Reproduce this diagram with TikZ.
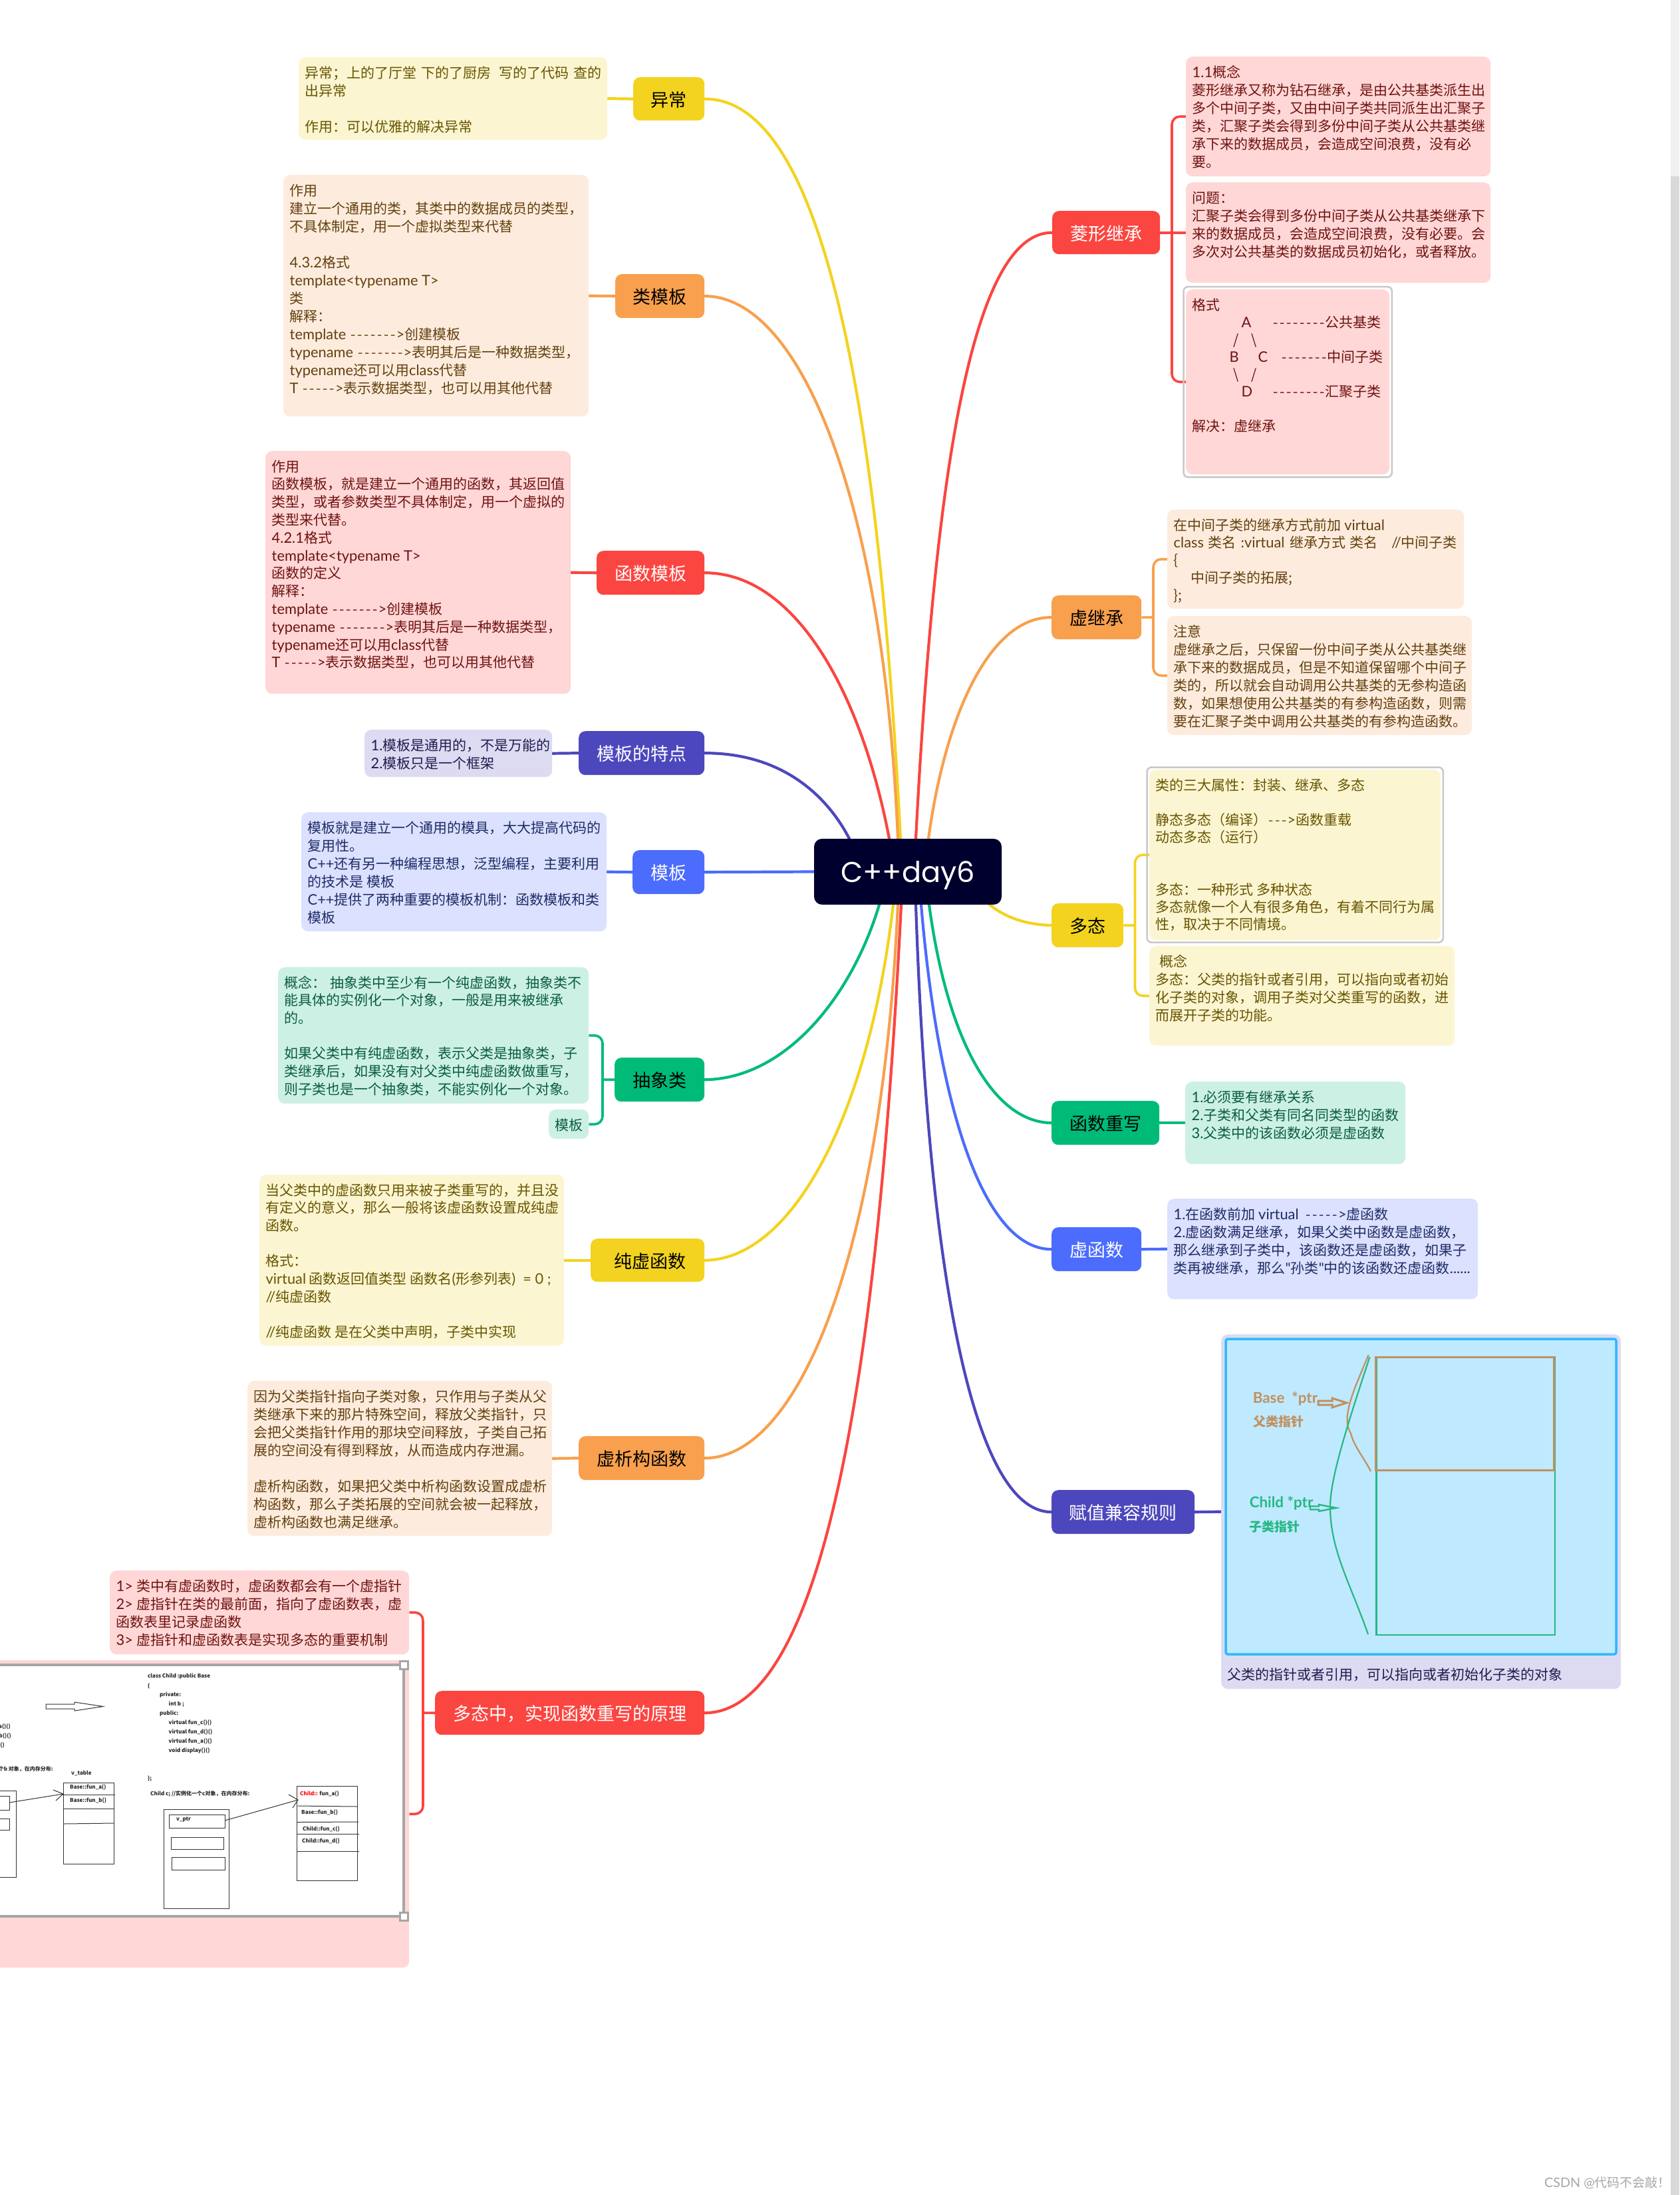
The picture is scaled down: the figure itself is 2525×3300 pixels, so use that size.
\documentclass[tikz,border=0pt]{standalone}
\usepackage{fontspec}
\usetikzlibrary{backgrounds}
\setmainfont{Noto Sans CJK SC}
\newfontfamily\lat[Scale=1.04]{Lato}
\newfontfamily\rootfont{Poppins}
\newcommand\lt[1]{{\lat #1}}
\newcommand\ds[1]{\foreach\i in {1,...,#1}{\makebox[10pt]{-}}}
\newcommand\putat[2]{\leavevmode\rlap{\hspace*{#1pt}#2}}
\newcommand\tightlines[1]{\setlength\baselineskip{#1pt}}
\definecolor{cred}{HTML}{FB4540}
\definecolor{corange}{HTML}{F8A04D}
\definecolor{cyellow}{HTML}{F3D31F}
\definecolor{cindigo}{HTML}{4D47BD}
\definecolor{cblue}{HTML}{4B6CFC}
\definecolor{cgreen}{HTML}{00BB78}
\definecolor{fred}{HTML}{FFD7D6}
\definecolor{forange}{HTML}{FDECDD}
\definecolor{fyellow}{HTML}{FCF5D1}
\definecolor{findigo}{HTML}{DCDBF2}
\definecolor{fblue}{HTML}{DBE1FE}
\definecolor{fgreen}{HTML}{CCF1E4}
\definecolor{tred}{HTML}{6E1210}
\definecolor{torange}{HTML}{63400F}
\definecolor{tyellow}{HTML}{665500}
\definecolor{tindigo}{HTML}{1F1C4C}
\definecolor{tblue}{HTML}{1E2B66}
\definecolor{tgreen}{HTML}{0B5C40}
\definecolor{picbrown}{HTML}{C09060}
\definecolor{picgreen}{HTML}{26B884}
\definecolor{picblue}{HTML}{2DB9FB}
\definecolor{picfill}{HTML}{BFE9FE}
\definecolor{selgrey}{HTML}{C8C8C8}
\definecolor{handlegrey}{HTML}{A6A6A6}
\definecolor{rootfill}{HTML}{00002E}
\tikzset{
  notebox/.style={rounded corners=10pt,inner xsep=9.5pt,inner ysep=12pt,anchor=north west,draw=none},
  nred/.style={fill=fred,text=tred}, norange/.style={fill=forange,text=torange},
  nyellow/.style={fill=fyellow,text=tyellow}, nindigo/.style={fill=findigo,text=tindigo},
  nblue/.style={fill=fblue,text=tblue}, ngreen/.style={fill=fgreen,text=tgreen},
  branchbox/.style={rounded corners=10pt,inner sep=0pt,anchor=north west,font=\fontsize{27}{30}\selectfont},
  bred/.style={fill=cred,text=white}, borange/.style={fill=corange,text=black},
  byellow/.style={fill=cyellow,text=black}, bindigo/.style={fill=cindigo,text=white},
  bblue/.style={fill=cblue,text=white}, bgreen/.style={fill=cgreen,text=black},
  conn/.style={line width=4.2pt,line cap=round},
  brack/.style={line width=3.6pt,rounded corners=12pt},
  selframe/.style={draw=selgrey,line width=2.5pt,rounded corners=7pt},
  imgtext/.style={anchor=west,inner sep=0pt,text=black!85,font=\fontsize{8}{10}\bfseries\selectfont},
  imgline/.style={draw=black!80,line width=1pt},
  imghandle/.style={draw=handlegrey,line width=3pt,fill=white},
  brownlab/.style={anchor=west,inner sep=0pt,text=picbrown,font=\fontsize{19}{22}\bfseries\selectfont},
  greenlab/.style={anchor=west,inner sep=0pt,text=picgreen,font=\fontsize{19}{22}\bfseries\selectfont},
}
\newcommand\lab[1]{{\fontsize{21.5}{24}\selectfont\lat\bfseries #1}}
% name, x0, y0, x1, y1, palette, text
\newcommand\notenode[7]{%
  \pgfmathsetmacro\nw{#4-#2-19}\pgfmathsetmacro\nh{#5-#3-24}%
  \node[notebox,#6] (#1) at (#2,#3) {\parbox[t][\nh pt][t]{\nw pt}{\fontsize{21}{27}\selectfont\raggedright\strut #7}};}
\newcommand\branch[7]{%
  \pgfmathsetmacro\nw{#4-#2}\pgfmathsetmacro\nh{#5-#3}%
  \node[branchbox,#6,minimum width=\nw pt,minimum height=\nh pt] (#1) at (#2,#3) {\raisebox{-11.5pt}[0pt][0pt]{#7}};}
\begin{document}
\begin{tikzpicture}[x=1pt,y=-1pt]
\useasboundingbox (0,0) rectangle (2525,3300);
% scrollbar
\fill[fill=black!15] (2512,0) rectangle (2525,3300);
\fill[fill=black!6] (2512,0) rectangle (2525,265);
% root
\node[rounded corners=12pt,fill=rootfill,text=white,minimum width=282pt,minimum height=99pt,inner sep=0pt,font=\rootfont\fontsize{43}{48}\selectfont] (root) at (1365,1310.5) {\raisebox{-15.5pt}[0pt][0pt]{C++day6}};
% left branches
\branch{yichang}{952}{116}{1059}{181}{byellow}{异常}
\branch{leimb}{925}{412}{1059}{478}{borange}{类模板}
\branch{hanmb}{897}{828}{1059}{894}{bred}{函数模板}
\branch{tedian}{870}{1099}{1059}{1165}{bindigo}{模板的特点}
\branch{muban}{951}{1278}{1059}{1344}{bblue}{模板}
\branch{chouxiang}{924}{1590}{1059}{1656}{bgreen}{抽象类}
\branch{chunxu}{888}{1862}{1059}{1927}{byellow}{\hspace*{8pt}纯虚函数}
\branch{xuxi}{870}{2159}{1059}{2225}{borange}{虚析构函数}
\branch{yuanli}{654}{2542}{1059}{2608}{bred}{多态中，实现函数重写的原理}
% right branches
\branch{lingxing}{1582}{317}{1744}{382}{bred}{菱形继承}
\branch{xujicheng}{1581}{895}{1716}{961}{borange}{虚继承}
\branch{duotai}{1581}{1358}{1689}{1424}{byellow}{多态}
\branch{chongxie}{1581}{1655}{1743}{1721}{bgreen}{函数重写}
\branch{xuhanshu}{1581}{1845}{1716}{1911}{bblue}{虚函数}
\branch{fuzhi}{1581}{2240}{1796}{2306}{bindigo}{赋值兼容规则}
% left notes
\notenode{nyc}{449}{86}{913}{210}{nyellow}{\mbox{异常；上的了厅堂\hspace{7pt}下的了厨房\hspace{12pt}写的了代码\hspace{7pt}查的}\\出异常\\\mbox{}\\作用：可以优雅的解决异常}
\notenode{nlm}{426}{263}{885}{626}{norange}{作用\\建立一个通用的类，其类中的数据成员的类型，\\不具体制定，用一个虚拟类型来代替\\\mbox{}\\\lt{4.3.2}格式\\\lt{template<typename T>}\\类\\解释：\\\lt{template }\ds{7}\lt{>}创建模板\\\lt{typename }\ds{7}\lt{>}表明其后是一种数据类型，\\\lt{typename}还可以用\lt{class}代替\\\lt{T }\ds{5}\lt{>}表示数据类型，也可以用其他代替}
\notenode{nhm}{399}{678}{858}{1043}{nred}{\tightlines{26.8}作用\\函数模板，就是建立一个通用的函数，其返回值\\类型，或者参数类型不具体制定，用一个虚拟的\\类型来代替。\\\lt{4.2.1}格式\\\lt{template<typename T>}\\函数的定义\\解释：\\\lt{template }\ds{7}\lt{>}创建模板\\\lt{typename }\ds{7}\lt{>}表明其后是一种数据类型，\\\lt{typename}还可以用\lt{class}代替\\\lt{T }\ds{5}\lt{>}表示数据类型，也可以用其他代替}
\notenode{ntd}{548}{1097}{830}{1168}{nindigo}{\lt{1.}模板是通用的，不是万能的\\\lt{2.}模板只是一个框架}
\notenode{nmb}{453}{1221}{912}{1400}{nblue}{模板就是建立一个通用的模具，大大提高代码的\\复用性。\\\lt{C++}还有另一种编程思想，泛型编程，主要利用\\的技术是 模板\\\lt{C++}提供了两种重要的模板机制：函数模板和类\\模板}
\notenode{ncx}{418}{1454}{885}{1659}{ngreen}{\tightlines{26.7}\makebox[68.6pt][l]{概念：}抽象类中至少有一个纯虚函数，抽象类不\\能具体的实例化一个对象，一般是用来被继承\\的。\\\mbox{}\\如果父类中有纯虚函数，表示父类是抽象类，子\\类继承后，如果没有对父类中纯虚函数做重写，\\则子类也是一个抽象类，不能实例化一个对象。}
\notenode{ncx2}{825}{1668}{885}{1712}{ngreen}{模板}
\notenode{ncv}{390}{1766}{848}{2023}{nyellow}{\tightlines{26.7}当父类中的虚函数只用来被子类重写的，并且没\\有定义的意义，那么一般将该虚函数设置成纯虚\\函数。\\\mbox{}\\格式：\\\lt{virtual} 函数返回值类型 函数名\lt{(}形参列表\lt{)\ \ =\ 0\ ;}\\\lt{//}纯虚函数\\\mbox{}\\\lt{//}纯虚函数 是在父类中声明，子类中实现}
\notenode{nxx}{372}{2076}{830}{2309}{norange}{因为父类指针指向子类对象，只作用与子类从父\\类继承下来的那片特殊空间，释放父类指针，只\\会把父类指针作用的那块空间释放，子类自己拓\\展的空间没有得到释放，从而造成内存泄漏。\\\mbox{}\\虚析构函数，如果把父类中析构函数设置成虚析\\构函数，那么子类拓展的空间就会被一起释放，\\虚析构函数也满足继承。}
\notenode{nyl}{165}{2361}{615}{2487}{nred}{\makebox[31pt][l]{\lt{1>}}类中有虚函数时，虚函数都会有一个虚指针\\\makebox[31pt][l]{\lt{2>}}虚指针在类的最前面，指向了虚函数表，虚\\函数表里记录虚函数\\\makebox[31pt][l]{\lt{3>}}虚指针和虚函数表是实现多态的重要机制}
\notenode{nimg}{-30}{2496}{615}{2958}{nred}{\mbox{}}
% image in the note
\fill[white] (-10,2503) rectangle (607,2881);
\draw[draw=handlegrey,line width=3.5pt] (-10,2503) -- (607,2503) -- (607,2881) -- (-10,2881);
\draw[imghandle] (601,2497) rectangle (613,2509);
\draw[imghandle] (601,2875) rectangle (613,2887);
\draw[imgline] (69,2562) -- (112,2562) -- (112,2559) -- (155,2565.5) -- (112,2572) -- (112,2569) -- (69,2569) -- cycle;
\node[imgtext] (ic1) at (222,2520) {class Child :public Base};
\node[imgtext] (ic2) at (222,2534.5) {\{};
\node[imgtext] (ic3) at (240,2548) {private:};
\node[imgtext] (ic4) at (253.5,2562) {int b ;};
\node[imgtext] (ic5) at (240,2576) {public:};
\node[imgtext] (ic6) at (253.5,2590) {virtual fun\_c()()};
\node[imgtext] (ic7) at (253.5,2604) {virtual fun\_d()()};
\node[imgtext] (ic8) at (253.5,2618) {virtual fun\_a()()};
\node[imgtext] (ic9) at (253.5,2632) {void display()()};
\node[imgtext] (ic10) at (222,2674) {\};};
\node[imgtext] (ic11) at (226,2697) {Child c; //实例化一个c对象，在内存分布:};
\node[imgtext,anchor=east] (il1) at (16,2596) {a()()};
\node[imgtext,anchor=east] (il2) at (17,2610) {b()()};
\node[imgtext,anchor=east] (il3) at (7,2624) {()};
\node[imgtext,anchor=east] (il4) at (80,2660) {个b 对象，在内存分布:};
\node[imgtext] (il5) at (107,2666) {v\_table};
\draw[imgline] (95,2680) rectangle (171,2802);
\draw[imgline] (94,2698) -- (173,2698);
\draw[imgline] (95,2719) -- (171,2719);
\draw[imgline] (95,2742) -- (171,2741);
\node[imgtext] (il6) at (105,2687) {Base::fun\_a()};
\node[imgtext] (il7) at (105,2707) {Base::fun\_b()};
\draw[imgline] (-10,2692) -- (24,2692) -- (24,2822) -- (-10,2822);
\draw[imgline] (-10,2700) -- (14,2700) -- (14,2721) -- (-10,2721);
\draw[imgline] (-10,2734.5) -- (14,2734.5) -- (14,2751) -- (-10,2751);
\draw[imgline] (14,2710) -- (95,2697);
\draw[imgline] (80,2691) -- (95,2697) -- (84,2707);
\draw[imgline] (246.5,2720.6) rectangle (344,2869);
\draw[imgline] (254,2728) rectangle (338,2748);
\draw[imgline] (257.5,2762) rectangle (336,2780.6);
\draw[imgline] (258,2792) rectangle (338,2811);
\node[imgtext] (ir1) at (265,2735) {v\_ptr};
\draw[imgline] (446,2685) rectangle (537.5,2827);
\draw[imgline] (448,2715) -- (537.5,2716);
\draw[imgline] (446,2739.5) -- (539,2739);
\draw[imgline] (446,2757) -- (540,2757);
\draw[imgline] (446,2783) -- (540,2783);
\node[imgtext] (ir2) at (451,2697) {\textcolor{red}{Child::} fun\_a()};
\node[imgtext] (ir3) at (453,2725) {Base::fun\_b()};
\node[imgtext] (ir4) at (455,2750) {Child::fun\_c()};
\node[imgtext] (ir5) at (454,2768) {Child::fun\_d()};
\draw[imgline] (338,2737) -- (448,2706);
\draw[imgline] (434,2698) -- (448,2706) -- (440,2718);
% right notes
\notenode{nl1}{1783}{85}{2241}{265}{nred}{\lt{1.1}概念\\菱形继承又称为钻石继承，是由公共基类派生出\\多个中间子类，又由中间子类共同派生出汇聚子\\类，汇聚子类会得到多份中间子类从公共基类继\\承下来的数据成员，会造成空间浪费，没有必\\要。}
\notenode{nl2}{1783}{274}{2241}{425}{nred}{问题：\\汇聚子类会得到多份中间子类从公共基类继承下\\来的数据成员，会造成空间浪费，没有必要。会\\多次对公共基类的数据成员初始化，或者释放。}
\notenode{nl3}{1783}{435}{2089}{713}{nred}{\tightlines{26.1}格式\\\putat{74}{\lt{A}}\putat{120}{\ds{8}公共基类}\\\putat{62}{/}\putat{89}{\textbackslash}\\\putat{56}{\lt{B}}\putat{99}{\lt{C}}\putat{133}{\ds{7}中间子类}\\\putat{62}{\textbackslash}\putat{89}{/}\\\putat{74}{\lt{D}}\putat{120}{\ds{8}汇聚子类}\\\mbox{}\\解决：虚继承}
\draw[selframe] ([shift={(-3.5,-4)}]nl3.north west) rectangle ([shift={(3.5,4)}]nl3.south east);
\notenode{nj1}{1755}{766}{2201}{915}{norange}{\tightlines{26.4}在中间子类的继承方式前加 \lt{virtual}\\\lt{class}\hspace{6.5pt}类名\hspace{7pt}\lt{:virtual}\hspace{8pt}继承方式\hspace{6.5pt}类名\hspace{20pt}\lt{//}中间子类\\\{\\\hspace*{26pt}中间子类的拓展;\\\};}
\notenode{nj2}{1755}{926}{2213}{1105}{norange}{注意\\虚继承之后，只保留一份中间子类从公共基类继\\承下来的数据成员，但是不知道保留哪个中间子\\类的，所以就会自动调用公共基类的无参构造函\\数，如果想使用公共基类的有参构造函数，则需\\要在汇聚子类中调用公共基类的有参构造函数。}
\notenode{nd1}{1728}{1157}{2166}{1413}{nyellow}{\tightlines{26.2}类的三大属性：封装、继承、多态\\\mbox{}\\静态多态（编译）\ds{3}\lt{>}函数重载\\动态多态（运行）\\\mbox{}\\\mbox{}\\多态：一种形式 多种状态\\多态就像一个人有很多角色，有着不同行为属\\性，取决于不同情境。}
\draw[selframe] ([shift={(-3.5,-3.5)}]nd1.north west) rectangle ([shift={(3.5,3.5)}]nd1.south east);
\notenode{nd2}{1728}{1422}{2187}{1572}{nyellow}{\hspace*{6pt}概念\\多态：父类的指针或者引用，可以指向或者初始\\化子类的对象，调用子类对父类重写的函数，进\\而展开子类的功能。}
\notenode{ncw}{1782}{1626}{2113}{1750}{ngreen}{\lt{1.}必须要有继承关系\\\lt{2.}子类和父类有同名同类型的函数\\\lt{3.}父类中的该函数必须是虚函数}
\notenode{nxh}{1755}{1802}{2222}{1953}{nblue}{\lt{1.}在函数前加 \lt{virtual} \ \ds{5}\lt{>}虚函数\\\lt{2.}虚函数满足继承，如果父类中函数是虚函数，\\那么继承到子类中，该函数还是虚函数，如果子\\类再被继承，那么\lt{"}孙类\lt{"}中的该函数还虚函数\lt{......}}
\notenode{nfz}{1836}{2006}{2437}{2539}{nindigo}{\mbox{}}
% picture in the last note
\draw[draw=picblue,fill=picfill,line width=3.5pt,rounded corners=3pt] (1843,2013) rectangle (2430,2487);
\draw[draw=picgreen,line width=2.5pt] (2069.5,2040) rectangle (2338,2458);
\draw[draw=picbrown,line width=3pt] (2068,2040) rectangle (2336,2210);
\draw[draw=picbrown,line width=2.2pt] (2057.6,2037) .. controls (2038,2085) and (2015,2130) .. (2031,2155) .. controls (2036,2175) and (2050,2190) .. (2061,2212);
\draw[draw=picgreen,line width=2.2pt] (2059.5,2040) .. controls (2030,2130) and (2000,2220) .. (2000,2265) .. controls (2000,2330) and (2030,2380) .. (2057,2457);
\draw[draw=picbrown,line width=3pt] (1982,2106) -- (2003,2106) -- (2003,2102) -- (2024.6,2109) -- (2003,2116) -- (2003,2112) -- (1982,2112) -- cycle;
\draw[draw=picgreen,line width=2.4pt] (1970,2264.5) -- (1983,2264.5) -- (1983,2262) -- (2009,2267) -- (1983,2272) -- (1983,2269.5) -- (1970,2269.5) -- cycle;
\node[brownlab] (lb1) at (1883.6,2103) {\lab{Base\ \ *ptr}};
\node[brownlab] (lb2) at (1884,2137) {父类指针};
\node[greenlab] (lg1) at (1878.6,2260) {\lab{Child *ptr}};
\node[greenlab] (lg2) at (1878.6,2295) {子类指针};
\node[anchor=west,inner sep=0pt,text=tindigo,font=\fontsize{21}{27}\selectfont] (fzt) at (1845.5,2518) {父类的指针或者引用，可以指向或者初始化子类的对象};
% watermark
\node[anchor=east,inner sep=0pt,text=black!35,font=\fontsize{19}{22}\selectfont] (wm) at (2512,3282) {\lt{CSDN @}代码不会敲！};
% connectors
\begin{scope}[on background layer]
\draw[conn,draw=cyellow] (yichang.east) .. controls (1255,148) and (1325,700) .. ([xshift=-11pt]root.north);
\draw[conn,draw=corange] (leimb.east) .. controls (1200,445) and (1328,740) .. ([xshift=-15pt]root.north);
\draw[conn,draw=cred] (hanmb.east) .. controls (1195,861) and (1295,1040) .. ([xshift=-28pt]root.north);
\draw[conn,draw=cindigo] (tedian.east) .. controls (1170,1132) and (1240,1190) .. ([xshift=-88pt]root.north);
\draw[conn,draw=cblue] (muban.east) -- (root.west);
\draw[conn,draw=cgreen] (chouxiang.east) .. controls (1180,1622) and (1280,1500) .. ([xshift=-43pt]root.south);
\draw[conn,draw=cyellow] (chunxu.east) .. controls (1190,1894) and (1306,1680) .. ([xshift=-22pt]root.south);
\draw[conn,draw=corange] (xuxi.east) .. controls (1200,2192) and (1326,1890) .. ([xshift=-15pt]root.south);
\draw[conn,draw=cred] (yuanli.east) .. controls (1255,2575) and (1325,1960) .. ([xshift=-10pt]root.south);
\draw[conn,draw=cred] (lingxing.west) .. controls (1460,349) and (1405,720) .. ([xshift=12pt]root.north);
\draw[conn,draw=corange] (xujicheng.west) .. controls (1490,927) and (1422,1070) .. ([xshift=31pt]root.north);
\draw[conn,draw=cyellow] (duotai.west) .. controls (1540,1390) and (1510,1378) .. ([xshift=123pt]root.south);
\draw[conn,draw=cgreen] (chongxie.west) .. controls (1490,1687) and (1423,1555) .. ([xshift=32pt]root.south);
\draw[conn,draw=cblue] (xuhanshu.west) .. controls (1480,1878) and (1411,1670) .. ([xshift=20pt]root.south);
\draw[conn,draw=cindigo] (fuzhi.west) .. controls (1460,2273) and (1395,1900) .. ([xshift=12pt]root.south);
% note links
\draw[conn,draw=cyellow] (yichang.west) -- (nyc.east);
\draw[conn,draw=corange] (leimb.west) -- (nlm.east);
\draw[conn,draw=cred] (hanmb.west) -- (nhm.east);
\draw[conn,draw=cindigo] (tedian.west) -- (ntd.east);
\draw[conn,draw=cblue] (muban.west) -- (nmb.east);
\draw[conn,draw=cyellow] (chunxu.west) -- (ncv.east);
\draw[conn,draw=corange] (xuxi.west) -- (nxx.east);
\draw[conn,draw=cgreen] (chongxie.east) -- (ncw.west);
\draw[conn,draw=cblue] (xuhanshu.east) -- (nxh.west);
\draw[conn,draw=cindigo] (fuzhi.east) -- (nfz.west);
% brackets
\coordinate (bxcx) at (906,1623);
\draw[brack,draw=cgreen] (ncx.east) -| (bxcx) |- (ncx2.east);
\draw[brack,draw=cgreen] (chouxiang.west) -- (bxcx);
\coordinate (bxyl) at (636,2575);
\draw[brack,draw=cred] (nyl.east) -| (bxyl) |- (nimg.east);
\draw[brack,draw=cred] (yuanli.west) -- (bxyl);
\coordinate (bxlx) at (1762,349.5);
\draw[brack,draw=cred] (nl1.west) -| (bxlx) |- (nl3.west);
\draw[brack,draw=cred] (lingxing.east) -- (nl2.west);
\coordinate (bxxj) at (1734,928);
\draw[brack,draw=corange] (nj1.west) -| (bxxj) |- (nj2.west);
\draw[brack,draw=corange] (xujicheng.east) -- (bxxj);
\coordinate (bxdt) at (1706.5,1391);
\draw[brack,draw=cyellow] (nd1.west) -| (bxdt) |- (nd2.west);
\draw[brack,draw=cyellow] (duotai.east) -- (bxdt);
\end{scope}
\end{tikzpicture}
\end{document}
